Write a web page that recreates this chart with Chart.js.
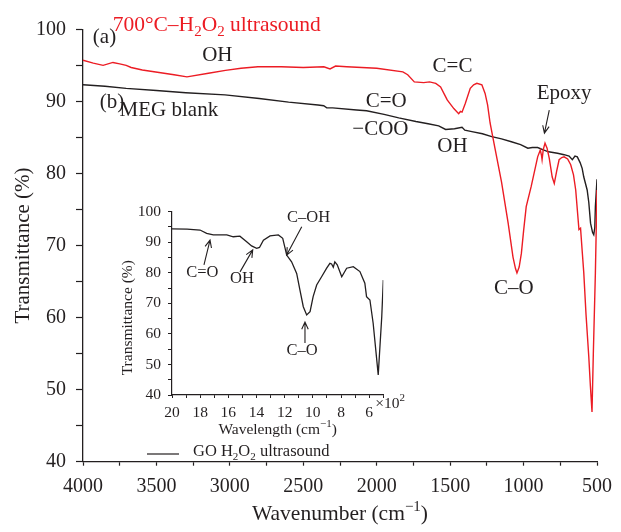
<!DOCTYPE html>
<html>
<head>
<meta charset="utf-8">
<script src="https://cdn.jsdelivr.net/npm/chart.js@4.4.1/dist/chart.umd.min.js"></script>
<style>
  body { margin: 0; background: #fff; }
  #wrap { position: relative; width: 621px; height: 532px; }
  #wrap canvas { position: absolute; left: 0; top: 0; }
</style>
</head>
<body>
<div id="wrap">
  <canvas id="main" width="621" height="532"></canvas>
  <canvas id="inset" width="621" height="532"></canvas>
</div>
<script>
// (a) 700C-H2O2 ultrasound, red trace
var redWavenumber = [4000, 3930, 3863, 3796, 3750, 3706, 3672, 3596, 3482, 3380, 3292, 3146, 3030, 2924, 2809, 2650, 2500, 2360, 2318, 2280, 2204, 2000, 1822, 1789, 1744, 1680, 1640, 1598, 1565, 1540, 1520, 1475, 1442, 1430, 1419, 1397, 1363, 1340, 1318, 1284, 1262, 1245, 1228, 1195, 1150, 1105, 1072, 1055, 1045, 1030, 1015, 1000, 982, 948, 904, 886, 878, 874, 866, 854, 840, 825, 805, 791, 775, 758, 740, 724, 700, 679, 660, 645, 623, 612, 600, 590, 575, 556, 545, 534, 525, 511, 500];
var redTransmittance = [95.7, 95.3, 95.0, 95.4, 95.2, 95.0, 94.7, 94.35, 94.0, 93.7, 93.4, 93.9, 94.3, 94.6, 94.8, 94.8, 94.7, 94.8, 94.5, 94.9, 94.8, 94.6, 94.1, 93.7, 92.7, 92.6, 92.7, 92.5, 92.0, 91.0, 90.2, 89.0, 88.3, 88.6, 88.5, 89.7, 91.8, 92.3, 92.5, 92.3, 91.1, 89.5, 87.0, 83.5, 78.8, 73.1, 68.4, 66.8, 66.2, 67.0, 68.9, 72.0, 75.4, 78.2, 82.3, 83.25, 82.5, 81.9, 83.3, 84.2, 83.5, 82.1, 79.5, 78.6, 80.3, 81.9, 82.2, 82.3, 82.0, 81.2, 79.8, 77.7, 72.2, 72.4, 69.0, 66.2, 60.5, 54.6, 50.5, 46.9, 55.0, 66.2, 77.7];

// (b) MEG blank, black trace
var blankWavenumber = [4000, 3850, 3706, 3500, 3300, 3033, 2800, 2600, 2400, 2361, 2340, 2300, 2137, 2069, 1950, 1850, 1733, 1650, 1578, 1531, 1470, 1419, 1400, 1352, 1280, 1217, 1150, 1083, 1020, 971, 940, 904, 870, 830, 769, 724, 690, 668, 650, 634, 615, 601, 590, 567, 556, 544, 530, 522, 515, 511, 500];
var blankTransmittance = [92.3, 92.1, 91.8, 91.5, 91.2, 90.9, 90.4, 89.9, 89.5, 89.4, 89.1, 89.1, 88.8, 88.7, 88.2, 87.7, 87.2, 86.9, 86.6, 86.1, 86.2, 86.4, 86.0, 85.8, 85.5, 85.1, 84.8, 84.4, 84.0, 83.5, 83.6, 83.6, 83.3, 83.0, 82.8, 82.6, 82.4, 81.9, 82.4, 82.3, 81.5, 80.7, 79.5, 77.7, 76.0, 73.1, 71.8, 71.5, 72.5, 75.4, 79.2];

// inset: GO H2O2 ultrasound, wavelength in units of 10^2 cm-1
var insetWavelength = [20, 18.93, 18.01, 17.54, 17.07, 16.11, 15.65, 15.18, 14.7, 14.35, 13.99, 13.79, 13.51, 13.04, 12.45, 12.14, 11.97, 11.86, 11.51, 11.15, 10.92, 10.68, 10.44, 10.2, 9.98, 9.73, 9.38, 9.02, 8.79, 8.67, 8.55, 8.44, 8.27, 7.95, 7.6, 7.13, 6.66, 6.31, 6.19, 5.95, 5.72, 5.36, 5.11, 5.0];
var insetTransmittance = [94.4, 94.3, 94.0, 92.9, 92.4, 92.4, 91.8, 92.0, 90.2, 88.8, 88.0, 88.3, 90.7, 92.1, 92.4, 91.3, 88.0, 85.8, 83.6, 79.8, 74.4, 68.9, 66.2, 67.3, 72.2, 76.0, 78.7, 81.5, 83.1, 82.9, 81.8, 83.6, 82.6, 78.7, 81.5, 82.0, 80.4, 76.6, 72.2, 71.1, 63.5, 46.6, 65.6, 77.6];

var SERIF = "'Liberation Serif', 'DejaVu Serif', serif";
var INK = '#231f20';
var RED = '#ec1c24';

Chart.defaults.font.family = SERIF;
Chart.defaults.color = INK;

function toPoints(xs, ys) {
  return xs.map(function (v, i) { return { x: v, y: ys[i] }; });
}

// parts: [text, 0 normal | 1 superscript | -1 subscript]
function drawRich(ctx, parts, x, y, size, color, align) {
  ctx.save();
  ctx.fillStyle = color;
  ctx.textBaseline = 'middle';
  ctx.textAlign = 'left';
  var fontFor = function (s) { return (s ? Math.round(size * 0.68) : size) + 'px ' + SERIF; };
  var w = 0;
  parts.forEach(function (p) { ctx.font = fontFor(p[1]); w += ctx.measureText(p[0]).width; });
  var cx = align === 'center' ? x - w / 2 : (align === 'right' ? x - w : x);
  parts.forEach(function (p) {
    ctx.font = fontFor(p[1]);
    var dy = p[1] === -1 ? size * 0.3 : (p[1] === 1 ? -size * 0.35 : 0);
    ctx.fillText(p[0], cx, y + dy);
    cx += ctx.measureText(p[0]).width;
  });
  ctx.restore();
}

function drawArrow(ctx, x1, y1, x2, y2) {
  var a = Math.atan2(y2 - y1, x2 - x1), h = 8, s = 0.42;
  ctx.save();
  ctx.strokeStyle = INK;
  ctx.lineWidth = 1.1;
  ctx.beginPath();
  ctx.moveTo(x1, y1);
  ctx.lineTo(x2, y2);
  ctx.moveTo(x2 - h * Math.cos(a - s), y2 - h * Math.sin(a - s));
  ctx.lineTo(x2, y2);
  ctx.lineTo(x2 - h * Math.cos(a + s), y2 - h * Math.sin(a + s));
  ctx.stroke();
  ctx.restore();
}

// text notes and arrows placed in data coordinates of each chart
var notesPlugin = {
  id: 'notes',
  afterDraw: function (chart, args, opts) {
    var ctx = chart.ctx, x = chart.scales.x, y = chart.scales.y;
    (opts.arrows || []).forEach(function (a) {
      drawArrow(ctx, x.getPixelForValue(a[0]), y.getPixelForValue(a[1]), x.getPixelForValue(a[2]), y.getPixelForValue(a[3]));
    });
    (opts.texts || []).forEach(function (t) {
      drawRich(ctx, t.parts, x.getPixelForValue(t.x), y.getPixelForValue(t.y), t.size, t.color || INK, t.align || 'center');
    });
  }
};

var mainExtras = {
  id: 'mainExtras',
  afterDraw: function (chart) {
    var a = chart.chartArea;
    drawRich(chart.ctx, [['Wavenumber (cm', 0], ['\u22121', 1], [')', 0]], (a.left + a.right) / 2, a.bottom + 53, 21.5, INK, 'center');
  }
};

var insetExtras = {
  id: 'insetExtras',
  afterDraw: function (chart) {
    var a = chart.chartArea, ctx = chart.ctx, ds = chart.data.datasets[0];
    drawRich(ctx, [['Wavelength (cm', 0], ['\u22121', 1], [')', 0]], (a.left + a.right) / 2, a.bottom + 35, 15.5, INK, 'center');
    drawRich(ctx, [['\u00d710', 0], ['2', 1]], a.right - 8, a.bottom + 9, 15.5, INK, 'left');
    // y title sits a little below the middle of the axis
    ctx.save();
    ctx.translate(a.left - 44.5, a.top + 106);
    ctx.rotate(-Math.PI / 2);
    drawRich(ctx, [['Transmittance (%)', 0]], 0, 0, 15.5, INK, 'center');
    ctx.restore();
    // legend
    ctx.save();
    ctx.strokeStyle = ds.borderColor;
    ctx.lineWidth = 1.2;
    ctx.beginPath();
    ctx.moveTo(a.left - 25, a.bottom + 59);
    ctx.lineTo(a.left + 7, a.bottom + 59);
    ctx.stroke();
    ctx.restore();
    drawRich(ctx, [['GO H', 0], ['2', -1], ['O', 0], ['2', -1], [' ultrasound', 0]], a.left + 21, a.bottom + 57, 16.5, INK, 'left');
  }
};

var mainChart = new Chart(document.getElementById('main'), {
  type: 'line',
  data: {
    datasets: [
      { label: '700\u00b0C\u2013H2O2 ultrasound', data: toPoints(redWavenumber, redTransmittance), borderColor: RED, borderWidth: 1.4, pointRadius: 0, tension: 0, fill: false },
      { label: 'MEG blank', data: toPoints(blankWavenumber, blankTransmittance), borderColor: INK, borderWidth: 1.4, pointRadius: 0, tension: 0, fill: false }
    ]
  },
  options: {
    responsive: false,
    animation: false,
    events: [],
    layout: { padding: { left: 0, right: 17.7, top: 29.3, bottom: 0 } },
    plugins: {
      legend: { display: false },
      tooltip: { enabled: false },
      notes: {
        texts: [
          { parts: [['700\u00b0C\u2013H', 0], ['2', -1], ['O', 0], ['2', -1], [' ultrasound', 0]], x: 3798, y: 100.5, size: 21.5, color: RED, align: 'left' },
          { parts: [['(a)', 0]], x: 3933, y: 98.8, size: 21, align: 'left' },
          { parts: [['OH', 0]], x: 3085, y: 96.4, size: 21 },
          { parts: [['(b)', 0]], x: 3886, y: 89.8, size: 21, align: 'left' },
          { parts: [['MEG blank', 0]], x: 3751, y: 88.8, size: 21, align: 'left' },
          { parts: [['C=O', 0]], x: 1935, y: 90.0, size: 21 },
          { parts: [['\u2212COO', 0]], x: 1975, y: 86.1, size: 21 },
          { parts: [['OH', 0]], x: 1484, y: 83.7, size: 21 },
          { parts: [['C=C', 0]], x: 1484, y: 94.8, size: 21 },
          { parts: [['Epoxy', 0]], x: 724, y: 91.1, size: 21 },
          { parts: [['C\u2013O', 0]], x: 1067, y: 64.0, size: 21 }
        ],
        arrows: [[825, 88.8, 858, 85.6]]
      }
    },
    scales: {
      x: {
        type: 'linear', reverse: true, min: 500, max: 4000,
        ticks: { stepSize: 250, autoSkip: false, maxRotation: 0, padding: 9, font: { size: 20 },
          callback: function (v) { return v % 500 === 0 ? v : ''; } },
        grid: { drawOnChartArea: false, tickLength: 4, color: INK, tickWidth: 1.2 },
        border: { color: INK, width: 1.3 },
        afterFit: function (s) { s.height = 70.3; }
      },
      y: {
        min: 40, max: 100,
        ticks: { stepSize: 5, autoSkip: false, padding: 10, font: { size: 20 },
          callback: function (v) { return v % 10 === 0 ? v : ''; } },
        grid: { drawOnChartArea: false, tickLength: 7, color: INK, tickWidth: 1.2 },
        border: { color: INK, width: 1.3 },
        title: { display: true, text: 'Transmittance (%)', font: { size: 21 }, padding: { top: 11, bottom: 0 } },
        afterFit: function (s) { s.width = 83; }
      }
    }
  },
  plugins: [notesPlugin, mainExtras]
});

var insetChart = new Chart(document.getElementById('inset'), {
  type: 'line',
  data: {
    datasets: [
      { label: 'GO H2O2 ultrasound', data: toPoints(insetWavelength, insetTransmittance), borderColor: INK, borderWidth: 1.3, pointRadius: 0, tension: 0, fill: false }
    ]
  },
  options: {
    responsive: false,
    animation: false,
    events: [],
    layout: { padding: { left: 117, right: 237.7, top: 211.7, bottom: 92 } },
    plugins: {
      legend: { display: false },
      tooltip: { enabled: false },
      notes: {
        texts: [
          { parts: [['C=O', 0]], x: 17.84, y: 79.9, size: 16.5 },
          { parts: [['OH', 0]], x: 15.03, y: 78.0, size: 16.5 },
          { parts: [['C\u2013OH', 0]], x: 10.31, y: 98.1, size: 16.5 },
          { parts: [['C\u2013O', 0]], x: 10.77, y: 54.4, size: 16.5 }
        ],
        arrows: [
          [17.73, 82.6, 17.30, 90.7],
          [15.17, 80.3, 14.27, 87.5],
          [10.79, 95.1, 11.86, 85.8],
          [10.56, 57.0, 10.56, 63.9]
        ]
      }
    },
    scales: {
      x: {
        type: 'linear', reverse: true, min: 5, max: 20,
        ticks: { stepSize: 1, autoSkip: false, maxRotation: 0, padding: 6, font: { size: 15.5 },
          callback: function (v) { return (v % 2 === 0) ? v : ''; } },
        grid: { drawOnChartArea: false, tickLength: 3, color: INK, tickWidth: 1 },
        border: { color: INK, width: 1.2 },
        afterFit: function (s) { s.height = 45; }
      },
      y: {
        min: 40, max: 100,
        ticks: { stepSize: 5, autoSkip: false, padding: 7, font: { size: 15.5 },
          callback: function (v) { return v % 10 === 0 ? v : ''; } },
        grid: { drawOnChartArea: false, tickLength: 4, color: INK, tickWidth: 1 },
        border: { color: INK, width: 1.2 },
        title: { display: false },
        afterFit: function (s) { s.width = 55; }
      }
    }
  },
  plugins: [notesPlugin, insetExtras]
});
</script>
</body>
</html>
